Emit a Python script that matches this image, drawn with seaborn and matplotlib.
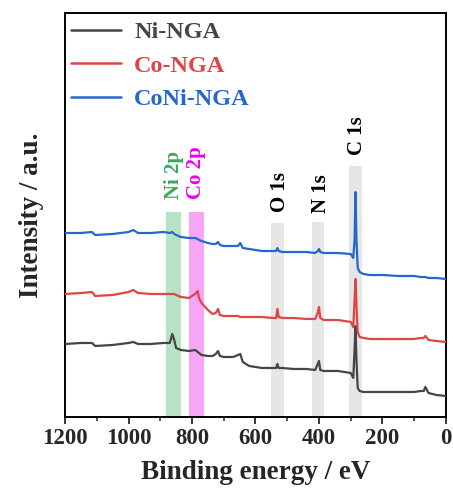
import numpy as np
import pandas as pd
import matplotlib
matplotlib.use("Agg")
import matplotlib.pyplot as plt
from matplotlib.ticker import MultipleLocator
import seaborn as sns

energy = [1200, 1150, 1115, 1105, 1050, 1000, 985, 970, 930, 890, 870, 862, 856, 850,
          835, 810, 790, 782, 778, 770, 750, 735, 725, 718, 712, 700, 670, 655, 648,
          640, 620, 580, 545, 535, 531, 527, 515, 480, 440, 412, 404, 400, 396, 385,
          340, 300, 292, 288, 285, 282, 278, 272, 260, 240, 200, 150, 110, 100, 80,
          70, 65, 55, 30, 0]

# pixel-row readings converted to arbitrary intensity (higher = up)
coni_px = [233, 233, 232, 235, 234, 232, 230, 233, 233, 232, 233, 232, 234, 235,
           237, 238, 238, 239, 240, 241, 243, 244, 244, 242, 245, 246, 246, 246, 243,
           248, 249, 251, 251, 251, 248, 251, 252, 252, 252, 253, 251, 249, 252, 253,
           253, 254, 258, 240, 192, 240, 268, 272, 274, 275, 275, 276, 276, 276, 277,
           277, 277, 278, 278, 279]
co_px = [294, 293, 292, 296, 295, 292, 290, 293, 294, 294, 294, 294, 294, 295,
         297, 298, 294, 291, 298, 303, 310, 314, 313, 309, 315, 316, 316, 316, 317,
         317, 317, 317, 318, 318, 309, 317, 318, 318, 319, 319, 313, 307, 318, 320,
         320, 322, 327, 300, 279, 305, 332, 337, 338, 339, 339, 339, 339, 339, 338,
         338, 336, 340, 341, 342]
ni_px = [344, 343, 343, 346, 345, 343, 342, 344, 344, 343, 343, 334, 340, 348,
         350, 351, 350, 352, 353, 355, 356, 356, 354, 351, 356, 357, 357, 355, 354,
         362, 366, 368, 368, 368, 364, 368, 368, 369, 369, 370, 364, 361, 370, 371,
         371, 373, 378, 350, 326, 360, 388, 391, 392, 392, 392, 392, 392, 392, 391,
         391, 387, 393, 395, 396]

series = ["Ni-NGA", "Co-NGA", "CoNi-NGA"]
colors = ["#454545", "#e04545", "#2468cc"]

peak_labels = ["Ni 2p", "Co 2p", "O 1s", "N 1s", "C 1s"]
peak_pos = [858, 786, 524, 394, 281]
band_lo = [835, 762, 510, 384, 265]
band_hi = [882, 809, 551, 422, 305]
band_top = [205, 205, 194, 195, 251]
label_base = [218, 218, 205, 204, 262]
band_colors = ["#b8e2c4", "#f7a6f7", "#e6e6e6", "#e6e6e6", "#e6e6e6"]
label_colors = ["#3aa860", "#ee00ee", "black", "black", "black"]

rows = []
for name, px in zip(series, [ni_px, co_px, coni_px]):
    for e, p in zip(energy, px):
        rows.append({"energy": e, "intensity": 417 - p, "sample": name})
df = pd.DataFrame(rows)

sns.set_style("ticks")
plt.rcParams["font.family"] = ["Liberation Serif", "DejaVu Serif"]
plt.rcParams["font.weight"] = "bold"

fig = plt.figure(figsize=(4.53, 4.93), dpi=100)
ax = fig.add_axes([0.1435, 0.1542, 0.841, 0.8194])

for lo, hi, top, c in zip(band_lo, band_hi, band_top, band_colors):
    ax.fill_between([lo, hi], 0, top, color=c, lw=0, zorder=0)

sns.lineplot(data=df, x="energy", y="intensity", hue="sample", hue_order=series,
             palette=colors, linewidth=1.6, ax=ax, sort=False, estimator=None, zorder=3)

for lab, pos, base, c in zip(peak_labels, peak_pos, label_base, label_colors):
    ax.text(pos, base, lab, rotation=90, ha="center", va="bottom", color=c,
            fontsize=15, fontweight="bold")

ax.set_xlim(1200, 0)
ax.set_ylim(0, 404)
ax.set_yticks([])
ax.xaxis.set_major_locator(MultipleLocator(200))
ax.xaxis.set_minor_locator(MultipleLocator(100))
ax.tick_params(axis="x", which="major", length=5, width=1.3, direction="out", labelsize=16.5, pad=3)
ax.tick_params(axis="x", which="minor", length=3, width=1.1, direction="out")
for lbl in ax.get_xticklabels():
    lbl.set_fontweight("bold")
for s in ax.spines.values():
    s.set_linewidth(1.4)
    s.set_color("black")

ax.set_xlabel("Binding energy / eV", fontsize=19.5, fontweight="bold", labelpad=8)
ax.set_ylabel("Intensity / a.u.", fontsize=19.5, fontweight="bold", labelpad=15)

leg = ax.legend(loc="upper left", frameon=False, fontsize=17.5, handlelength=2.05,
                handletextpad=0.55, labelspacing=0.48, borderaxespad=0.0, borderpad=0.25,
                bbox_to_anchor=(0.0, 0.995))
for t, c in zip(leg.get_texts(), colors):
    t.set_color(c)
    t.set_fontweight("bold")
for h in leg.get_lines():
    h.set_linewidth(1.8)

fig.savefig("out.png", dpi=100)
